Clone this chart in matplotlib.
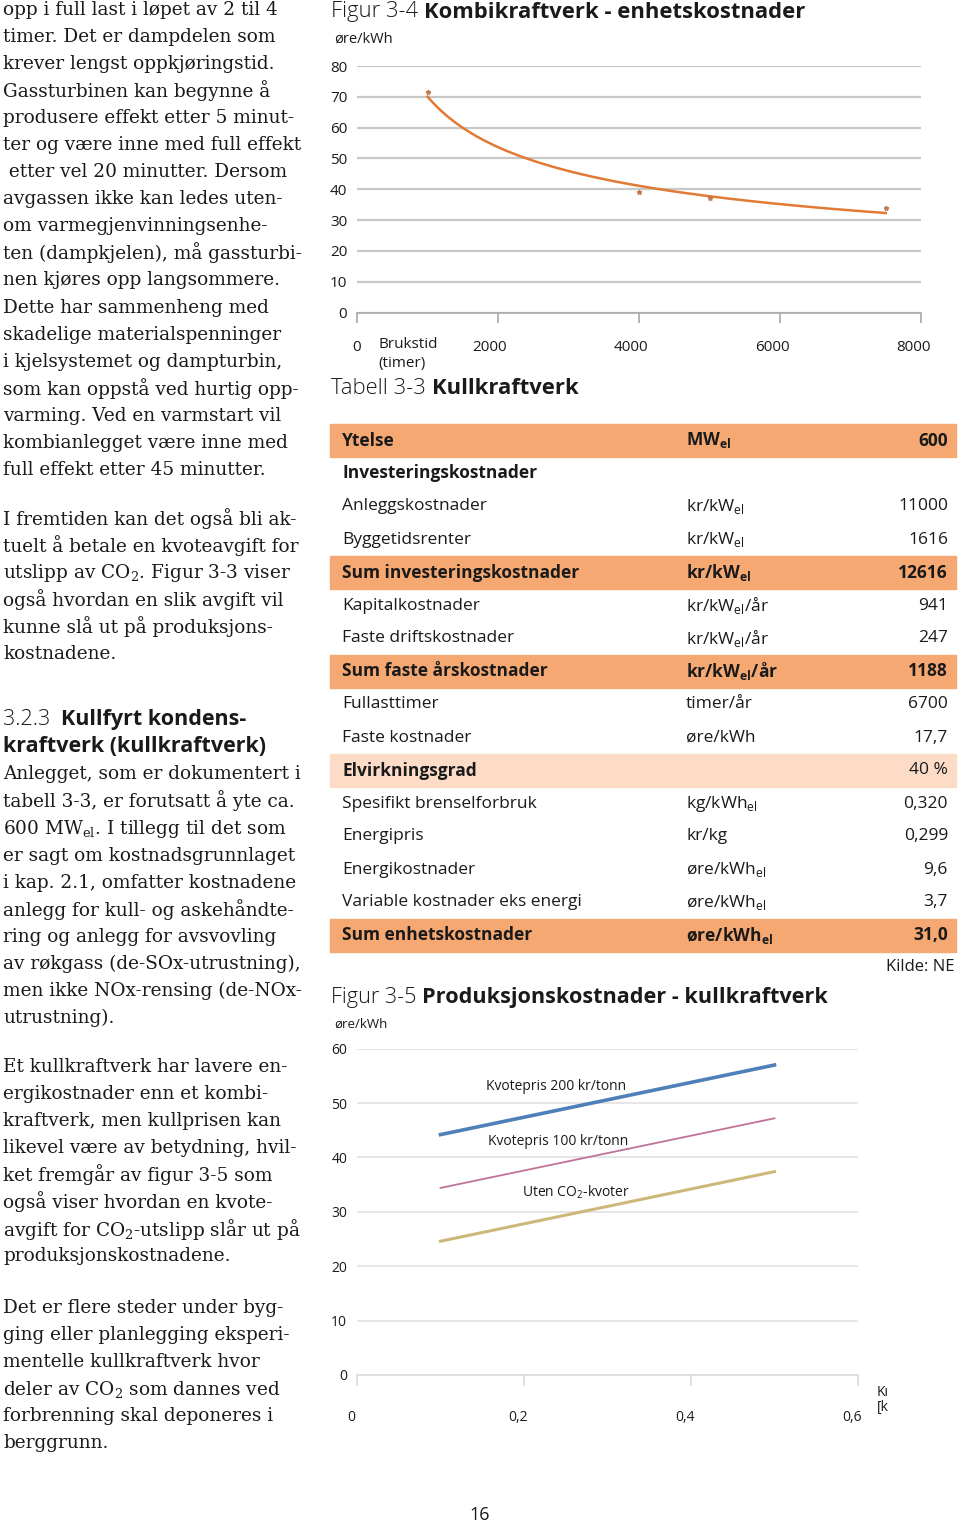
import numpy as np
import matplotlib
matplotlib.use('Agg')
import matplotlib.pyplot as plt
from matplotlib.transforms import ScaledTranslation

SANS = ['Open Sans', 'DejaVu Sans']
SERIF = ['DejaVu Serif', 'Liberation Serif']

# Figur 3-4: enhetskostnader kombikraftverk
brukstid = [1000, 4000, 5000, 7500]
enhetskost = [71.5, 39.0, 37.0, 34.0]
brukstid_ticks = [0, 2000, 4000, 6000, 8000]

# Figur 3-5: produksjonskostnader kullkraftverk
kullpris = [0.1, 0.2, 0.3, 0.4, 0.5]
kost_200 = [44.2, 47.4, 50.6, 53.8, 57.0]
kost_100 = [34.4, 37.6, 40.8, 44.0, 47.2]
kost_uten = [24.6, 27.8, 31.0, 34.2, 37.4]
kullpris_ticks = [0, 0.2, 0.4, 0.6]
kullpris_ticklabels = ['0', '0,2', '0,4', '0,6']

# Tabell 3-3
EL = r'$_{\mathregular{el}}$'
tab_navn = ['Ytelse', 'Investeringskostnader', 'Anleggskostnader', 'Byggetidsrenter',
            'Sum investeringskostnader', 'Kapitalkostnader', 'Faste driftskostnader',
            'Sum faste årskostnader', 'Fullasttimer', 'Faste kostnader', 'Elvirkningsgrad',
            'Spesifikt brenselforbruk', 'Energipris', 'Energikostnader',
            'Variable kostnader eks energi', 'Sum enhetskostnader']
tab_enhet = ['MW' + EL, '', 'kr/kW' + EL, 'kr/kW' + EL, 'kr/kW' + EL, 'kr/kW' + EL + '/år',
             'kr/kW' + EL + '/år', 'kr/kW' + EL + '/år', 'timer/år', 'øre/kWh', '',
             'kg/kWh' + EL, 'kr/kg', 'øre/kWh' + EL, 'øre/kWh' + EL, 'øre/kWh' + EL]
tab_verdi = ['600', '', '11000', '1616', '12616', '941', '247', '1188', '6700', '17,7',
             '40 %', '0,320', '0,299', '9,6', '3,7', '31,0']
tab_type = ['sum', 'head', '', '', 'sum', '', '', 'sum', '', '', 'lys', '', '', '', '', 'sum']

CO2 = r'CO$_{\mathregular{2}}$'
venstre_tekst = [
    (10, 'opp i full last i løpet av 2 til 4'),
    (37, 'timer. Det er dampdelen som'),
    (64, 'krever lengst oppkjøringstid.'),
    (91, 'Gassturbinen kan begynne å'),
    (118, 'produsere effekt etter 5 minut-'),
    (145, 'ter og være inne med full effekt'),
    (172, ' etter vel 20 minutter. Dersom'),
    (199, 'avgassen ikke kan ledes uten-'),
    (226, 'om varmegjenvinningsenhe-'),
    (253, 'ten (dampkjelen), må gassturbi-'),
    (280, 'nen kjøres opp langsommere.'),
    (308, 'Dette har sammenheng med'),
    (335, 'skadelige materialspenninger'),
    (362, 'i kjelsystemet og dampturbin,'),
    (389, 'som kan oppstå ved hurtig opp-'),
    (416, 'varming. Ved en varmstart vil'),
    (443, 'kombianlegget være inne med'),
    (470, 'full effekt etter 45 minutter.'),
    (519, 'I fremtiden kan det også bli ak-'),
    (546, 'tuelt å betale en kvoteavgift for'),
    (573, 'utslipp av ' + CO2 + '. Figur 3-3 viser'),
    (600, 'også hvordan en slik avgift vil'),
    (627, 'kunne slå ut på produksjons-'),
    (654, 'kostnadene.'),
    (774, 'Anlegget, som er dokumentert i'),
    (801, 'tabell 3-3, er forutsatt å yte ca.'),
    (829, '600 MW' + EL + '. I tillegg til det som'),
    (856, 'er sagt om kostnadsgrunnlaget'),
    (883, 'i kap. 2.1, omfatter kostnadene'),
    (910, 'anlegg for kull- og askehåndte-'),
    (937, 'ring og anlegg for avsvovling'),
    (964, 'av røkgass (de-SOx-utrustning),'),
    (991, 'men ikke NOx-rensing (de-NOx-'),
    (1018, 'utrustning).'),
    (1067, 'Et kullkraftverk har lavere en-'),
    (1094, 'ergikostnader enn et kombi-'),
    (1121, 'kraftverk, men kullprisen kan'),
    (1148, 'likevel være av betydning, hvil-'),
    (1175, 'ket fremgår av figur 3-5 som'),
    (1202, 'også viser hvordan en kvote-'),
    (1229, 'avgift for ' + CO2 + '-utslipp slår ut på'),
    (1256, 'produksjonskostnadene.'),
    (1308, 'Det er flere steder under byg-'),
    (1335, 'ging eller planlegging eksperi-'),
    (1362, 'mentelle kullkraftverk hvor'),
    (1389, 'deler av ' + CO2 + ' som dannes ved'),
    (1416, 'forbrenning skal deponeres i'),
    (1443, 'berggrunn.'),
]

W, H = 960, 1525
fig = plt.figure(figsize=(W / 100, H / 100), dpi=100)
fig.patch.set_facecolor('white')


def fx(px):
    return px / W


def fy(py):
    return 1 - py / H


def to_tittel(x, y, lett, fet, size):
    # lett del + fet del paa samme linje
    t = fig.text(fx(x), fy(y), lett, family=SANS, fontsize=size, fontweight='light',
                 va='center', color='#1a1a1a')
    fig.canvas.draw()
    bb = t.get_window_extent(fig.canvas.get_renderer())
    fig.text(bb.x1 / W, fy(y), fet, family=SANS, fontsize=size, fontweight='bold',
             va='center', color='#1a1a1a')


# venstre spalte
for y, tekst in venstre_tekst:
    fig.text(fx(3), fy(y), tekst, family=SERIF, fontsize=13.3, va='center', color='#1a1a1a')
to_tittel(3, 719, '3.2.3  ', 'Kullfyrt kondens-', 15.5)
fig.text(fx(3), fy(746), 'kraftverk (kullkraftverk)', family=SANS, fontsize=15.5,
         fontweight='bold', va='center', color='#1a1a1a')
fig.text(fx(480), fy(1515), '16', family=SANS, fontsize=13, ha='center', va='center',
         color='#1a1a1a')

# ---------- Figur 3-4 ----------
to_tittel(331, 12, 'Figur 3-4 ', 'Kombikraftverk - enhetskostnader', 15.8)
ax1 = fig.add_axes([fx(357), fy(312.5), fx(921 - 357), (312.5 - 66) / H])
ax1.set_xlim(0, 8000)
ax1.set_ylim(0, 80)
ax1.set_yticks(range(0, 81, 10))
ax1.set_xticks(brukstid_ticks)
ax1.yaxis.grid(True, color='#c8c8c8', linewidth=1.6)
ax1.set_axisbelow(True)
for s in ['top', 'right', 'left']:
    ax1.spines[s].set_visible(False)
ax1.spines['bottom'].set_color('#a8a8a8')
ax1.spines['bottom'].set_linewidth(1.2)
ax1.tick_params(axis='y', length=0, pad=7, labelsize=11)
ax1.tick_params(axis='x', length=7, color='#a8a8a8', width=1.2, pad=13, labelsize=11)
ax1.set_xticklabels([str(v) for v in brukstid_ticks])
for lab in ax1.get_xticklabels() + ax1.get_yticklabels():
    lab.set_family(SANS)
    lab.set_color('#1a1a1a')
for lab in ax1.get_xticklabels()[1:]:
    lab.set_transform(lab.get_transform() + ScaledTranslation(-0.08, 0, fig.dpi_scale_trans))

# potens-trendlinje tilpasset punktene (som i Excel)
b, a = np.polyfit(np.log(brukstid), np.log(enhetskost), 1)
xs = np.linspace(min(brukstid), max(brukstid), 200)
ax1.plot(xs, np.exp(a) * xs ** b, color='#e07a35', linewidth=1.8, zorder=3)
ax1.plot(brukstid, enhetskost, linestyle='none', marker='*', markersize=3.5,
         color='#c47a50', zorder=4)
ax1.text(-0.04, 1.11, 'øre/kWh', transform=ax1.transAxes, family=SANS, fontsize=10.5,
         va='center', ha='left', color='#1a1a1a')
fig.text(fx(378), fy(345), 'Brukstid', family=SANS, fontsize=11, va='center', color='#1a1a1a')
fig.text(fx(378), fy(363), '(timer)', family=SANS, fontsize=11, va='center', color='#1a1a1a')

# ---------- Tabell 3-3 ----------
to_tittel(331, 388, 'Tabell 3-3 ', 'Kullkraftverk', 15.8)
rad_h = 33
topp = 424
for i in range(len(tab_navn)):
    y0 = topp + i * rad_h
    yc = y0 + rad_h / 2
    typ = tab_type[i]
    if typ == 'sum':
        fig.patches.append(plt.Rectangle((fx(330), fy(y0 + rad_h)), fx(626), rad_h / H,
                                          transform=fig.transFigure, color='#f5a872',
                                          zorder=0))
    elif typ == 'lys':
        fig.patches.append(plt.Rectangle((fx(330), fy(y0 + rad_h)), fx(626), rad_h / H,
                                          transform=fig.transFigure, color='#fcdcc6',
                                          zorder=0))
    vekt = 'bold' if typ in ('sum', 'head', 'lys') else 'normal'
    fig.text(fx(342), fy(yc), tab_navn[i], family=SANS, fontsize=12.5, fontweight=vekt,
             va='center', color='#1a1a1a')
    fig.text(fx(686), fy(yc), tab_enhet[i], family=SANS, fontsize=12.5,
             fontweight='bold' if typ == 'sum' else 'normal', va='center', color='#1a1a1a')
    fig.text(fx(948), fy(yc), tab_verdi[i], family=SANS, fontsize=12.5,
             fontweight='bold' if typ == 'sum' else 'normal', va='center', ha='right',
             color='#1a1a1a')
fig.text(fx(954), fy(967), 'Kilde: NE', family=SANS, fontsize=12, va='center', ha='right',
         color='#1a1a1a')

# ---------- Figur 3-5 ----------
to_tittel(331, 997, 'Figur 3-5 ', 'Produksjonskostnader - kullkraftverk', 15.6)
ax2 = fig.add_axes([fx(357), fy(1375), fx(858 - 357), (1375 - 1048.7) / H])
ax2.set_xlim(0, 0.6)
ax2.set_ylim(0, 60)
ax2.set_yticks(range(0, 61, 10))
ax2.set_xticks(kullpris_ticks)
ax2.set_xticklabels(kullpris_ticklabels)
ax2.yaxis.grid(True, color='#e2e2e2', linewidth=1.2)
ax2.set_axisbelow(True)
for s in ['top', 'right', 'left']:
    ax2.spines[s].set_visible(False)
ax2.spines['bottom'].set_color('#dcdcdc')
ax2.spines['bottom'].set_linewidth(1.2)
ax2.tick_params(axis='y', length=0, pad=7, labelsize=10)
ax2.tick_params(axis='x', length=8, color='#dcdcdc', width=1.2, pad=17.5, labelsize=10)
for lab in ax2.get_xticklabels() + ax2.get_yticklabels():
    lab.set_family(SANS)
    lab.set_color('#1a1a1a')
for lab in ax2.get_xticklabels():
    lab.set_transform(lab.get_transform() + ScaledTranslation(-0.06, 0, fig.dpi_scale_trans))

ax2.plot(kullpris, kost_200, color='#4f7fb8', linewidth=2.6)
ax2.plot(kullpris, kost_100, color='#c07298', linewidth=1.3)
ax2.plot(kullpris, kost_uten, color='#cdb77a', linewidth=2.2)
ax2.text(0.238, 53.1, 'Kvotepris 200 kr/tonn', family=SANS, fontsize=10, ha='center',
         va='center', color='#1a1a1a')
ax2.text(0.241, 43.0, 'Kvotepris 100 kr/tonn', family=SANS, fontsize=10, ha='center',
         va='center', color='#1a1a1a')
ax2.text(0.262, 33.6, 'Uten ' + CO2 + '-kvoter', family=SANS, fontsize=10, ha='center',
         va='center', color='#1a1a1a')
ax2.text(-0.045, 1.075, 'øre/kWh', transform=ax2.transAxes, family=SANS, fontsize=9.5,
         va='center', ha='left', color='#1a1a1a')
fig.text(fx(877), fy(1392), 'Kı', family=SANS, fontsize=10, va='center', color='#1a1a1a')
fig.text(fx(877), fy(1408), '[k', family=SANS, fontsize=10, va='center', color='#1a1a1a')

fig.savefig('out.png', dpi=100)
